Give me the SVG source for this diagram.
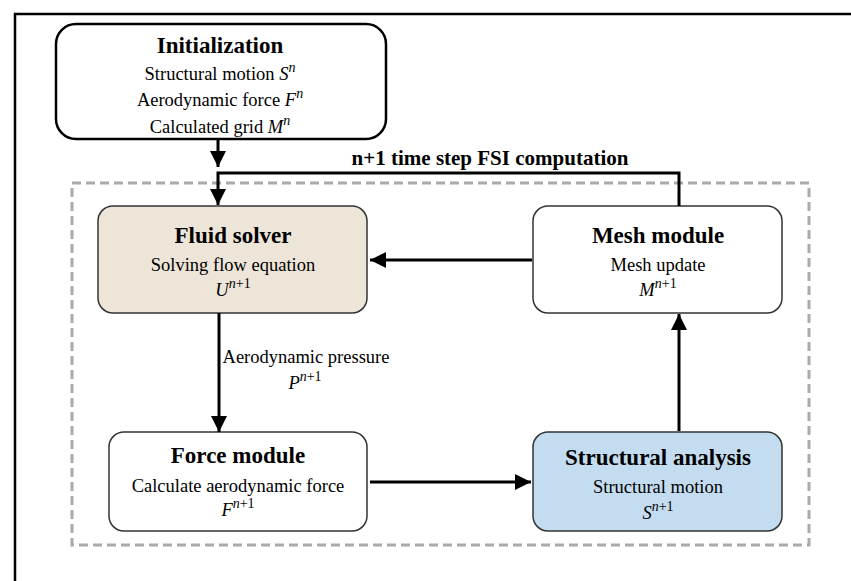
<svg xmlns="http://www.w3.org/2000/svg" width="851" height="581" viewBox="0 0 851 581">
<style>
text{font-family:"Liberation Serif","Times New Roman",serif;fill:#000;text-anchor:middle}
.t{font-weight:bold;font-size:23px}
.s{font-size:18.5px}
.i{font-style:italic}
.sup{font-size:14px}
.box{stroke:#333;stroke-width:1.5}
.c{fill:none;stroke:#000;stroke-width:3}
</style>
<defs>
<marker id="ah" markerUnits="userSpaceOnUse" markerWidth="16" markerHeight="16" refX="16" refY="8" orient="auto">
<path d="M0,0 L16,8 L0,16 z" fill="#000"/>
</marker>
</defs>
<rect width="851" height="581" fill="#fff"/>
<path d="M15,581 V14 H851" fill="none" stroke="#000" stroke-width="2.5"/>
<rect x="72" y="183" width="737" height="362" fill="none" stroke="#aaa" stroke-width="3" stroke-dasharray="9,5"/>

<g id="init">
<rect x="56" y="24" width="330" height="115" rx="20" fill="#fff" stroke="#000" stroke-width="2.5"/>
<text x="220" y="53" class="t">Initialization</text>
<text x="220" y="80" class="s">Structural motion <tspan class="i">S</tspan><tspan class="i sup" dy="-8">n</tspan></text>
<text x="220" y="106" class="s">Aerodynamic force <tspan class="i">F</tspan><tspan class="i sup" dy="-8">n</tspan></text>
<text x="220" y="133" class="s">Calculated grid <tspan class="i">M</tspan><tspan class="i sup" dy="-8">n</tspan></text>
</g>

<g id="fluid">
<rect x="98" y="206" width="269" height="107" rx="15" fill="#ede5d8" class="box"/>
<text x="233" y="243" class="t">Fluid solver</text>
<text x="233" y="271" class="s">Solving flow equation</text>
<text x="233" y="296" class="s"><tspan class="i">U</tspan><tspan class="sup" dy="-8"><tspan class="i">n</tspan>+1</tspan></text>
</g>

<g id="mesh">
<rect x="533" y="206" width="249" height="107" rx="15" fill="#fff" class="box"/>
<text x="658" y="243" class="t">Mesh module</text>
<text x="658" y="271" class="s">Mesh update</text>
<text x="658" y="296" class="s"><tspan class="i">M</tspan><tspan class="sup" dy="-8"><tspan class="i">n</tspan>+1</tspan></text>
</g>

<g id="force">
<rect x="109" y="432" width="258" height="99" rx="15" fill="#fff" class="box"/>
<text x="238" y="463" class="t">Force module</text>
<text x="238" y="492" class="s">Calculate aerodynamic force</text>
<text x="238" y="516" class="s"><tspan class="i">F</tspan><tspan class="sup" dy="-8"><tspan class="i">n</tspan>+1</tspan></text>
</g>

<g id="struct">
<rect x="533" y="432" width="249" height="99" rx="15" fill="#c3dcf0" class="box"/>
<text x="658" y="465" class="t">Structural analysis</text>
<text x="658" y="493" class="s">Structural motion</text>
<text x="658" y="519" class="s"><tspan class="i">S</tspan><tspan class="sup" dy="-8"><tspan class="i">n</tspan>+1</tspan></text>
</g>

<g id="connectors">
<path class="c" d="M218,139 V167" marker-end="url(#ah)"/>
<path class="c" d="M679,206 V173 H218 V205" marker-end="url(#ah)"/>
<text x="490" y="165" style="font-weight:bold;font-size:21px">n+1 time step FSI computation</text>
<path class="c" d="M532,260 H370" marker-end="url(#ah)"/>
<path class="c" d="M219,313 V432" marker-end="url(#ah)"/>
<text x="306" y="363" class="s">Aerodynamic pressure</text>
<text x="305" y="389" class="s"><tspan class="i">P</tspan><tspan class="sup" dy="-8"><tspan class="i">n</tspan>+1</tspan></text>
<path class="c" d="M370,482 H531" marker-end="url(#ah)"/>
<path class="c" d="M679,431 V314" marker-end="url(#ah)"/>
</g>
</svg>
